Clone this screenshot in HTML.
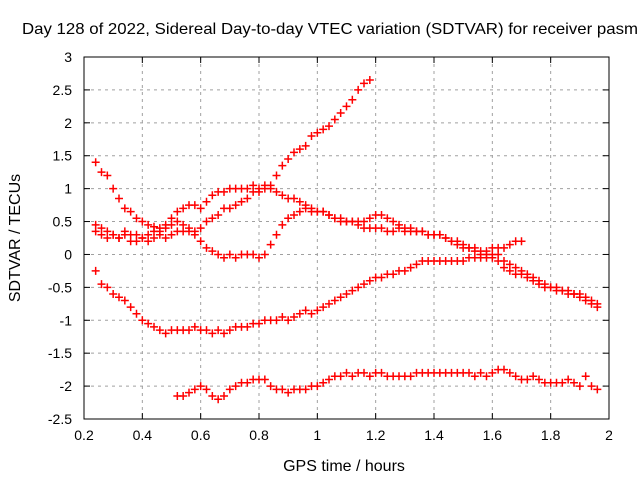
<!DOCTYPE html>
<html><head><meta charset="utf-8"><style>
html,body{margin:0;padding:0;background:#fff;}
svg{display:block;font-family:"Liberation Sans",Arial,sans-serif;}
</style></head><body>
<svg id="chart" width="640" height="480" viewBox="0 0 640 480">
<text x="22" y="34" font-size="16" textLength="616" lengthAdjust="spacingAndGlyphs" text-anchor="start" fill="#000">Day 128 of 2022, Sidereal Day-to-day VTEC variation (SDTVAR) for receiver pasm</text>
<text x="344" y="471" font-size="16" text-anchor="middle">GPS time / hours</text>
<text transform="translate(20,238) rotate(-90)" font-size="16" text-anchor="middle">SDTVAR / TECUs</text>
<g id="grid"></g>
<g id="ticks"></g>
<g id="marks"></g>
<rect x="84" y="57" width="525" height="362" fill="none" stroke="#000" stroke-width="1"/>
</svg>
<script>
const xTicks = [0.2,0.4,0.6,0.8,1,1.2,1.4,1.6,1.8,2];
const xTickLabels = ["0.2","0.4","0.6","0.8","1","1.2","1.4","1.6","1.8","2"];
const yTicks = [-2.5,-2,-1.5,-1,-0.5,0,0.5,1,1.5,2,2.5,3];
const yTickLabels = ["-2.5","-2","-1.5","-1","-0.5","0","0.5","1","1.5","2","2.5","3"];
const seriesStart = [0.24,0.24,0.24,0.24,0.52];
const seriesStep = 0.02;
const track1 = [0.35,0.3,0.25,0.3,0.25,0.35,0.3,0.2,0.25,0.2,0.25,0.3,0.25,0.3,0.35,0.35,0.4,0.35,0.4,0.5,0.55,0.6,0.7,0.7,0.75,0.8,0.85,0.95,0.95,1.0,1.05,1.2,1.35,1.45,1.55,1.6,1.65,1.8,1.85,1.9,1.95,2.05,2.15,2.25,2.35,2.5,2.6,2.65];
const track2 = [1.4,1.25,1.2,1.0,0.85,0.7,0.65,0.55,0.5,0.45,0.42,0.4,0.45,0.55,0.65,0.7,0.75,0.75,0.7,0.8,0.9,0.95,0.95,1.0,1.0,1.0,1.0,1.05,1.0,1.05,1.0,0.95,0.9,0.85,0.85,0.8,0.75,0.7,0.65,0.65,0.6,0.55,0.55,0.5,0.5,0.5,0.5,0.55,0.6,0.6,0.55,0.5,0.45,0.4,0.4,0.35,0.35,0.3,0.3,0.3,0.25,0.2,0.2,0.15,0.1,0.05,0.0,0.0,-0.05,-0.1,-0.2,-0.25,-0.3,-0.3,-0.35,-0.4,-0.45,-0.5,-0.5,-0.55,-0.55,-0.6,-0.6,-0.65,-0.7,-0.75,-0.8];
const track3 = [0.45,0.4,0.35,0.3,0.25,0.3,0.2,0.3,0.25,0.3,0.35,0.35,0.4,0.45,0.5,0.45,0.35,0.3,0.2,0.1,0.05,0.0,-0.05,0.0,-0.05,0.0,0.0,0.0,-0.05,0.0,0.15,0.3,0.45,0.55,0.6,0.65,0.7,0.65,0.65,0.65,0.6,0.55,0.5,0.5,0.5,0.45,0.4,0.4,0.4,0.4,0.35,0.35,0.4,0.35,0.35,0.35,0.35,0.3,0.3,0.3,0.25,0.2,0.15,0.1,0.1,0.1,0.05,0.05,0.1,0.1,0.1,0.15,0.2,0.2];
const track4 = [-0.25,-0.45,-0.5,-0.6,-0.65,-0.7,-0.8,-0.9,-1.0,-1.05,-1.1,-1.15,-1.2,-1.15,-1.15,-1.15,-1.15,-1.1,-1.15,-1.15,-1.2,-1.15,-1.2,-1.15,-1.1,-1.1,-1.1,-1.05,-1.05,-1.0,-1.0,-1.0,-0.95,-1.0,-0.95,-0.9,-0.85,-0.9,-0.85,-0.8,-0.75,-0.7,-0.65,-0.6,-0.55,-0.5,-0.45,-0.4,-0.35,-0.35,-0.3,-0.3,-0.25,-0.25,-0.2,-0.15,-0.1,-0.1,-0.1,-0.1,-0.1,-0.1,-0.1,-0.1,-0.05,-0.05,-0.05,-0.05,0.0,0.0,-0.1,-0.15,-0.2,-0.25,-0.3,-0.35,-0.4,-0.45,-0.5,-0.5,-0.55,-0.55,-0.6,-0.6,-0.65,-0.7,-0.75];
const track5 = [-2.15,-2.15,-2.1,-2.05,-2.0,-2.05,-2.15,-2.2,-2.15,-2.05,-2.0,-1.95,-1.95,-1.9,-1.9,-1.9,-2.0,-2.05,-2.05,-2.1,-2.05,-2.05,-2.05,-2.0,-2.0,-1.95,-1.9,-1.85,-1.85,-1.8,-1.85,-1.8,-1.8,-1.85,-1.8,-1.8,-1.85,-1.85,-1.85,-1.85,-1.85,-1.8,-1.8,-1.8,-1.8,-1.8,-1.8,-1.8,-1.8,-1.8,-1.8,-1.85,-1.8,-1.85,-1.8,-1.75,-1.75,-1.8,-1.85,-1.9,-1.9,-1.85,-1.9,-1.95,-1.95,-1.95,-1.95,-1.9,-1.95,-2.0,-1.85,-2.0,-2.05];
const tracks = [track1,track2,track3,track4,track5];

const L=84,R=609,T=57,B=419;
function sx(v){return L+(v-0.2)/(2-0.2)*(R-L);}
function sy(v){return B-(v+2.5)/(3+2.5)*(B-T);}
const NS="http://www.w3.org/2000/svg";
function mk(tag,attrs,parent){const e=document.createElementNS(NS,tag);for(const k in attrs)e.setAttribute(k,attrs[k]);parent.appendChild(e);return e;}
const grid=document.getElementById('grid'),ticks=document.getElementById('ticks'),marks=document.getElementById('marks');
xTicks.forEach((v,i)=>{
  const x=sx(v);
  if(i>0&&i<xTicks.length-1){const g=mk('line',{x1:x,x2:x,y1:T,y2:B,stroke:'#a0a0a0','stroke-dasharray':'3,4'},grid);
  
  }
  mk('line',{x1:x,x2:x,y1:B,y2:B-6,stroke:'#000'},ticks);
  mk('line',{x1:x,x2:x,y1:T,y2:T+6,stroke:'#000'},ticks);
  const t=mk('text',{x:x,y:B+21,'font-size':14,'text-anchor':'middle'},ticks);
  t.textContent=xTickLabels[i];
  
  
});
yTicks.forEach((v,i)=>{
  const y=sy(v);
  if(i>0&&i<yTicks.length-1){const g=mk('line',{x1:L,x2:R,y1:y,y2:y,stroke:'#a0a0a0','stroke-dasharray':'3,4'},grid);
  
  }
  mk('line',{x1:L,x2:L+6,y1:y,y2:y,stroke:'#000'},ticks);
  mk('line',{x1:R,x2:R-6,y1:y,y2:y,stroke:'#000'},ticks);
  const t=mk('text',{x:L-12,y:y+5,'font-size':14,'text-anchor':'end'},ticks);
  t.textContent=yTickLabels[i];
  
  
});
tracks.forEach((arr,k)=>{
  arr.forEach((v,i)=>{
    const x=sx(seriesStart[k]+i*seriesStep),y=sy(v);
    const p=mk('path',{d:`M${x-4},${y}H${x+4}M${x},${y-4}V${y+4}`,stroke:'#ff0000','stroke-width':1.5,fill:'none'},marks);
    
    
  });
});
</script>
</body></html>
